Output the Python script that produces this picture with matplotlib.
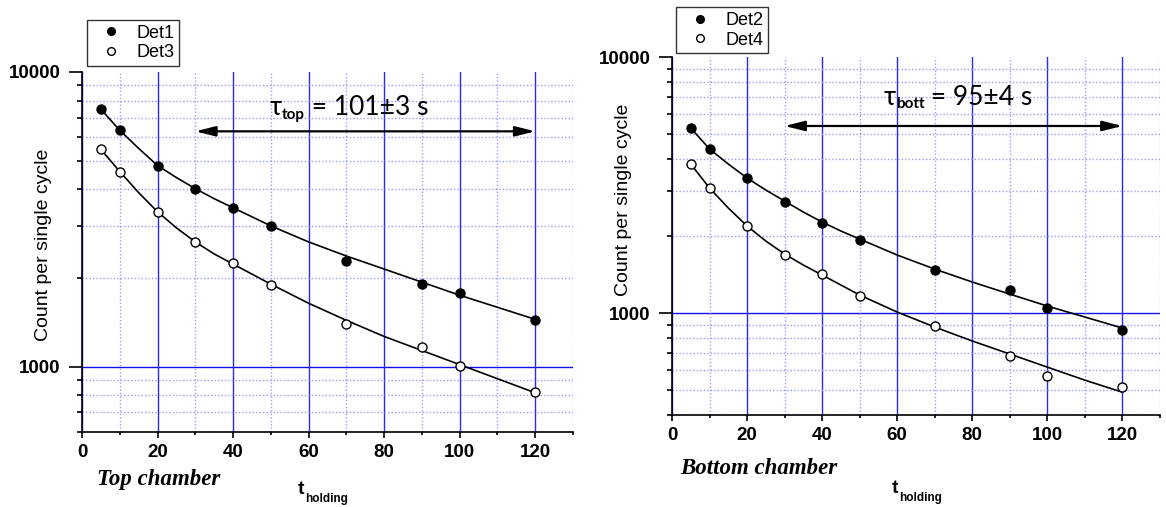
import matplotlib
matplotlib.use('Agg')
import matplotlib.pyplot as plt
from matplotlib.ticker import FixedLocator, LogLocator, NullFormatter, FormatStrFormatter, MultipleLocator

plt.rcParams['font.family'] = ['Liberation Sans', 'DejaVu Sans']

# measured counts
t_meas = [5, 10, 20, 30, 40, 50, 70, 90, 100, 120]
det1 = [7470, 6340, 4810, 4020, 3460, 3000, 2280, 1905, 1775, 1445]
det3 = [5470, 4590, 3350, 2650, 2250, 1890, 1390, 1170, 1007, 822]
det2 = [5280, 4370, 3370, 2710, 2250, 1930, 1470, 1230, 1047, 858]
det4 = [3820, 3080, 2190, 1685, 1420, 1165, 890, 680, 567, 514]

# fit curves
t_fit = [5, 10, 15, 20, 25, 30, 35, 40, 45, 50, 60, 70, 80, 90, 100, 110, 120]
fit1 = [7476, 6339, 5505, 4815, 4382, 4019, 3715, 3461, 3225, 3004, 2650, 2374, 2144, 1935, 1747, 1590, 1447]
fit3 = [5462, 4594, 3895, 3354, 2958, 2650, 2412, 2229, 2061, 1905, 1641, 1436, 1266, 1134, 1016, 910, 815]
fit2 = [5282, 4372, 3819, 3368, 3023, 2738, 2480, 2267, 2091, 1946, 1685, 1485, 1322, 1186, 1065, 965, 874]
fit4 = [3819, 3078, 2572, 2187, 1911, 1700, 1540, 1408, 1287, 1176, 1009, 882, 778, 692, 615, 547, 491]

W, H = 1166, 507
fig = plt.figure(figsize=(W / 100, H / 100), dpi=100)

panels = [
    dict(px=(82, 72, 573, 432), ylow=600, a=det1, b=det3, fa=fit1, fb=fit3,
         la='Det1', lb='Det3', sub='top', val=' = 101\u00b13 s', arr_y=6290,
         tau_xy=(49.7, 7130), chamber='Top chamber', ch_xy=(97, 485),
         t_xy=(298, 494), ylab=(-0.061, 0.52), leg=(0.01, 1.017)),
    dict(px=(672, 57, 1160, 415), ylow=400, a=det2, b=det4, fa=fit2, fb=fit4,
         la='Det2', lb='Det4', sub='bott', val=' = 95\u00b14 s', arr_y=5378,
         tau_xy=(56.3, 6494), chamber='Bottom chamber', ch_xy=(680, 474),
         t_xy=(892, 493), ylab=(-0.082, 0.6), leg=(0.008, 1.011)),
]

for p in panels:
    l, t, r, b = p['px']
    ax = fig.add_axes([l / W, 1 - b / H, (r - l) / W, (b - t) / H])
    ax.set_yscale('log')
    ax.set_xlim(0, 130)
    ax.set_ylim(p['ylow'], 10000)

    ax.xaxis.set_major_locator(MultipleLocator(20))
    ax.xaxis.set_minor_locator(FixedLocator(list(range(10, 131, 20))))
    ax.yaxis.set_major_locator(FixedLocator([1000, 10000]))
    ax.yaxis.set_major_formatter(FormatStrFormatter('%d'))
    ax.yaxis.set_minor_locator(LogLocator(base=10, subs=[2, 3, 4, 5, 6, 7, 8, 9]))
    ax.yaxis.set_minor_formatter(NullFormatter())

    for s in ['top', 'right']:
        ax.spines[s].set_visible(False)
    for s in ['left', 'bottom']:
        ax.spines[s].set_linewidth(1.2)

    ax.tick_params(axis='y', which='major', length=9.5, width=1.2, pad=6, labelsize=13.5)
    ax.tick_params(axis='y', which='minor', length=3.5, width=1.2)
    ax.tick_params(axis='x', which='major', length=4.5, width=1.2, pad=4, labelsize=13.5)
    ax.tick_params(axis='x', which='minor', length=2.5, width=1.2)
    for lab in ax.get_xticklabels() + ax.get_yticklabels():
        lab.set_fontweight('bold')

    ax.grid(True, axis='x', which='major', color='#2a2aff', lw=1.0, zorder=0)
    ax.grid(True, axis='both', which='minor', color='#9a9aff', lw=1.0,
            linestyle=(0, (1, 1.5)), zorder=0)
    ax.axhline(1000, color='#1010ee', lw=1.0, zorder=0)
    ax.set_axisbelow(True)

    ax.plot(t_fit, p['fa'], color='black', lw=1.2, zorder=2)
    ax.plot(t_fit, p['fb'], color='black', lw=1.2, zorder=2)
    ax.plot(t_meas, p['a'], 'o', color='black', ms=6.5, label=p['la'], zorder=3)
    ax.plot(t_meas, p['b'], 'o', mfc='white', mec='black', mew=1.0, ms=6.5,
            label=p['lb'], zorder=3)

    leg = ax.legend(loc='lower left', bbox_to_anchor=p['leg'], fontsize=13,
                    frameon=True, fancybox=False, edgecolor='black',
                    borderpad=0.25, handlelength=2.2, handletextpad=0.3,
                    labelspacing=0.15, borderaxespad=0, markerscale=0.85)
    leg.get_frame().set_linewidth(1.0)

    ax.set_ylabel('Count per single cycle', fontsize=14)
    ax.yaxis.set_label_coords(*p['ylab'])

    # lifetime arrow and text
    ax.annotate('', xy=(120, p['arr_y']), xytext=(30, p['arr_y']),
                arrowprops=dict(arrowstyle='<|-|>,head_length=1.0,head_width=0.25',
                                color='black', lw=1.6, mutation_scale=12,
                                shrinkA=0, shrinkB=0), zorder=4)
    tau = ax.text(p['tau_xy'][0], p['tau_xy'][1], '\u03c4', fontsize=19,
                  family=['Lato', 'DejaVu Sans'], va='baseline', zorder=4)
    sub = ax.annotate(p['sub'], xy=(1, 0), xycoords=tau, xytext=(0, -1),
                      textcoords='offset points', fontsize=11, fontweight='bold',
                      family=['Lato', 'DejaVu Sans'], va='bottom', ha='left')
    ax.annotate(p['val'], xy=(1, 0), xycoords=(sub, tau), fontsize=19,
                family=['Lato', 'DejaVu Sans'], va='bottom', ha='left')

    # chamber name and x label
    fig.text(p['ch_xy'][0] / W, 1 - p['ch_xy'][1] / H, p['chamber'],
             family=['Liberation Serif', 'DejaVu Serif'], style='italic',
             fontweight='bold', fontsize=16.5, va='baseline', ha='left')
    tl = fig.text(p['t_xy'][0] / W, 1 - p['t_xy'][1] / H, 't', fontsize=14,
                  fontweight='bold', va='baseline', ha='left')
    ax.annotate('holding', xy=(1, 0), xycoords=tl, xytext=(0.5, 3.5),
                textcoords='offset points', fontsize=8.5, fontweight='bold',
                va='top', ha='left', annotation_clip=False)

fig.savefig('out.png', dpi=100)
